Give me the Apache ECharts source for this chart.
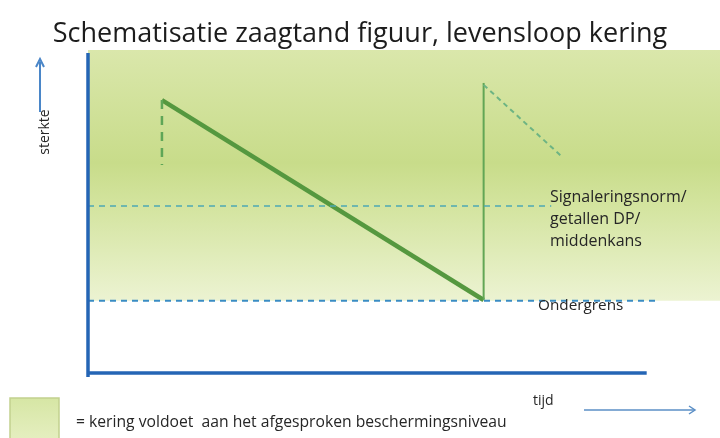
<!DOCTYPE html>
<html>
<head>
<meta charset="utf-8">
<script src="https://cdn.jsdelivr.net/npm/echarts@6/dist/echarts.min.js"></script>
<style>
    html, body {margin: 0; background: #fff;}
    #chart {width: 720px; height: 438px;}
</style>
</head>
<body>
<div id="chart"></div>
<script>
// schematisch: tijd en sterkte allebei 0..100, geen eenheden
var titel = 'Schematisatie zaagtand figuur, levensloop kering';
var asX = [0, 88.4];            // x-as loopt tot hier
var asY = [-1.2, 99.1];
var dalingX = [11.7, 62.6];     // sterkte neemt af tot de ondergrens
var dalingY = [84.5, 22.6];
var herstelY = [22.6, 89.8];    // versterking: sprong omhoog
var eersteY = [84.5, 64.4];     // gestreept stuk bij eerste piek
var vervolgX = [62.6, 75.2];
var vervolgY = [89.2, 66.6];
var signaleringsnorm = 51.7, signaleringEind = 73.3;
var ondergrens = 22.4, ondergrensEind = 90.5;
var bandBoven = 100;
var normRegels = ['Signaleringsnorm/', 'getallen DP/', 'middenkans'];

var font = "'Open Sans', sans-serif";
var myChart = echarts.init(document.getElementById('chart'));

function lijn(name, xs, ys, color, width, type, z) {
    return {
        name: name,
        type: 'line',
        data: [[xs[0], ys[0]], [xs[1], ys[1]]],
        symbol: 'none',
        clip: false,
        silent: true,
        z: z || 3,
        lineStyle: {color: color, width: width, type: type || 'solid'}
    };
}

var band = lijn('ondergrens', [0, ondergrensEind], [ondergrens, ondergrens], '#3a8cc4', 2, [6, 5], 4);
band.markArea = {
    silent: true,
    itemStyle: {
        color: new echarts.graphic.LinearGradient(0, 0, 0, 1, [
            {offset: 0, color: '#dae7ab'},
            {offset: 0.45, color: '#c8dc8a'},
            {offset: 0.6, color: '#d2e39c'},
            {offset: 1, color: '#ecf3d2'}
        ])
    },
    data: [[{coord: [0, ondergrens]}, {coord: [100, bandBoven]}]]
};

var option = {
    backgroundColor: '#ffffff',
    animation: false,
    title: {
        text: titel,
        left: 'center',
        top: 16,
        textStyle: {fontFamily: font, fontSize: 27, fontWeight: 'normal', color: '#1c1c1c'}
    },
    grid: {left: 88, right: 0, top: 50, bottom: 65},
    xAxis: {type: 'value', min: 0, max: 100, show: false},
    yAxis: {type: 'value', min: 0, max: 100, show: false},
    series: [
        band,
        lijn('signaleringsnorm', [0, signaleringEind], [signaleringsnorm, signaleringsnorm], '#4ea8b4', 1.5, [6, 5], 4),
        lijn('daling', dalingX, dalingY, '#55983f', 4.5),
        lijn('herstel', [dalingX[1], dalingX[1]], herstelY, '#62a655', 2),
        lijn('eerste', [dalingX[0], dalingX[0]], eersteY, '#5fa657', 2.5, [9, 7]),
        lijn('vervolg', vervolgX, vervolgY, '#6db483', 2, [5, 4]),
        lijn('y-as', [0, 0], asY, '#2465b5', 3.5, 'solid', 6),
        lijn('x-as', asX, [0, 0], '#2465b5', 3.5, 'solid', 6)
    ],
    graphic: [
        // labels bij de normlijnen
        {
            type: 'text', left: 550, top: 186, z: 100,
            style: {text: normRegels.join('\n'), font: '16px ' + font, fill: '#262626', lineHeight: 22}
        },
        {
            type: 'text', left: 538, top: 298, z: 100,
            style: {text: 'Ondergrens', font: '15.3px ' + font, fill: '#262626'}
        },
        // y-as: sterkte met pijl
        {
            type: 'text', x: 45, y: 132, rotation: Math.PI / 2, z: 100,
            style: {text: 'sterkte', font: '14px ' + font, fill: '#262626', align: 'center', verticalAlign: 'middle'}
        },
        {type: 'line', z: 100, shape: {x1: 40, y1: 112, x2: 40, y2: 62}, style: {stroke: '#4a86c8', lineWidth: 2}},
        {type: 'polyline', z: 100, shape: {points: [[36, 67], [40, 59], [44, 67]]}, style: {stroke: '#4a86c8', lineWidth: 2, fill: null}},
        // x-as: tijd met pijl
        {
            type: 'text', left: 533, top: 394, z: 100,
            style: {text: 'tijd', font: '14px ' + font, fill: '#262626'}
        },
        {type: 'line', z: 100, shape: {x1: 584, y1: 410, x2: 694, y2: 410}, style: {stroke: '#5b8fc6', lineWidth: 1.5}},
        {type: 'polyline', z: 100, shape: {points: [[689, 406], [695, 410], [689, 414]]}, style: {stroke: '#5b8fc6', lineWidth: 1.5, fill: null}},
        // legenda
        {
            type: 'rect', z: 100, shape: {x: 10, y: 398, width: 49, height: 44},
            style: {
                fill: new echarts.graphic.LinearGradient(0, 0, 0, 1, [
                    {offset: 0, color: '#d6e6a4'},
                    {offset: 1, color: '#e6efc2'}
                ]),
                stroke: '#c2d18e', lineWidth: 1.5
            }
        },
        {
            type: 'text', left: 76, top: 415, z: 100,
            style: {text: '= kering voldoet  aan het afgesproken beschermingsniveau', font: '15.7px ' + font, fill: '#262626'}
        }
    ]
};

myChart.setOption(option);
</script>
</body>
</html>
